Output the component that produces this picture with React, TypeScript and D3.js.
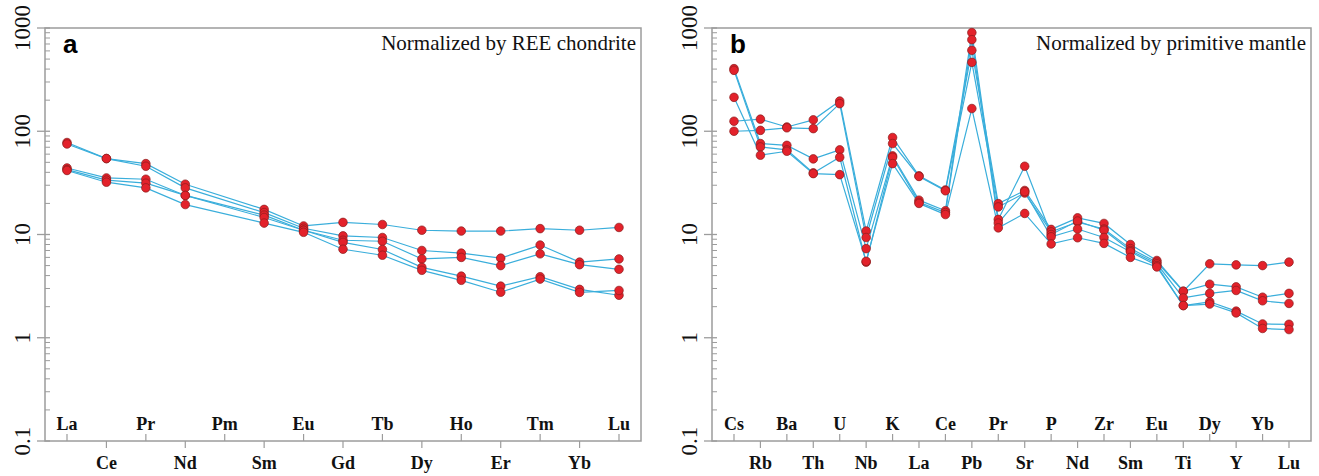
import React from "react";
import * as d3 from "d3";

const reeCats = ["La","Ce","Pr","Nd","Pm","Sm","Eu","Gd","Tb","Dy","Ho","Er","Tm","Yb","Lu"];
const reeS1 = [77.8, 54.4, 48.6, 30.7, null, 17.5, 12.1, 13.1, 12.5, 11.0, 10.8, 10.8, 11.4, 11.0, 11.7];
const reeS2 = [75.3, 54.4, 45.8, 28.3, null, 16.3, 11.5, 9.7, 9.35, 7.0, 6.6, 5.9, 7.9, 5.4, 5.8];
const reeS3 = [44.1, 35.3, 34.3, 23.9, null, 15.4, 11.0, 8.8, 8.6, 5.8, 6.0, 5.0, 6.5, 5.1, 4.6];
const reeS4 = [42.5, 33.6, 31.4, 23.9, null, 14.6, 11.0, 8.4, 7.16, 4.8, 3.95, 3.16, 3.9, 2.94, 2.58];
const reeS5 = [41.7, 32.1, 28.3, 19.5, null, 12.9, 10.5, 7.2, 6.3, 4.5, 3.6, 2.76, 3.7, 2.75, 2.87];

const pmCats = ["Cs","Rb","Ba","Th","U","Nb","K","La","Ce","Pb","Pr","Sr","P","Nd","Zr","Sm","Eu","Ti","Dy","Y","Yb","Lu"];
const pmS1 = [125, 131, 110, 129, 196, 10.8, 87, 37, 27, 608, 19.9, 26.7, 11.2, 14.5, 12.8, 8.0, 5.6, 2.82, 5.2, 5.08, 5.0, 5.4];
const pmS2 = [100, 102, 108, 106, 185, 9.35, 76, 36.5, 26.5, 465, 18.5, 25.2, 10.6, 13.2, 11.3, 7.3, 5.4, 2.82, 3.3, 3.11, 2.47, 2.69];
const pmS3 = [404, 76, 73, 54, 66, 7.3, 57.7, 21.5, 17, 902, 14.0, 45.8, 10.0, 13.5, 11.0, 7.0, 5.2, 2.43, 2.69, 2.87, 2.28, 2.15];
const pmS4 = [389, 70.5, 66, 39.5, 56, 5.4, 56, 20.5, 16.3, 771, 12.9, 26.0, 9.5, 11.3, 9.35, 6.8, 5.0, 2.05, 2.23, 1.81, 1.36, 1.35];
const pmS5 = [213, 58.6, 64, 38.9, 38, 5.5, 48.6, 20, 15.6, 166, 11.6, 16.0, 8.1, 9.3, 8.2, 6.0, 4.85, 2.05, 2.12, 1.74, 1.23, 1.20];

const yTicks = [0.1, 1, 10, 100, 1000];
const yTickLabels = ["0.1", "1", "10", "100", "1000"];

const LINE = "#3aaedb";
const DOT = "#e3222b";
const DOT_STROKE = "#8a1c1c";
const FRAME = "#9c9c9c";
const SERIF = "Liberation Serif, DejaVu Serif, Times New Roman, serif";
const SANS = "Liberation Sans, Arial, sans-serif";

type PanelProps = {
  left: number; right: number; top: number; bottom: number;
  cats: string[]; series: (number | null)[][]; letter: string; note: string;
};

function Panel({ left, right, top, bottom, cats, series, letter, note }: PanelProps) {
  const x = d3.scalePoint<string>().domain(cats).range([left + 22, right - 22]).padding(0);
  const y = d3.scaleLog().domain([0.1, 1000]).range([bottom, top]);
  const line = d3.line<{ c: string; v: number }>().x(d => x(d.c) as number).y(d => y(d.v));
  const minor: number[] = [];
  [0.1, 1, 10, 100].forEach(dec => { for (let k = 2; k <= 9; k++) minor.push(dec * k); });
  const pts = series.map(s => s.map((v, i) => ({ c: cats[i], v })).filter(d => d.v != null) as { c: string; v: number }[]);
  return (
    <g>
      <rect x={left} y={top} width={right - left} height={bottom - top} fill="none" stroke={FRAME} strokeWidth={1.5} />
      {yTicks.map(t => (
        <line key={"M" + t} x1={left - 8} x2={left + 5} y1={y(t)} y2={y(t)} stroke={FRAME} strokeWidth={1.3} />
      ))}
      {minor.map(t => (
        <line key={"m" + t} x1={left} x2={left + 5} y1={y(t)} y2={y(t)} stroke={FRAME} strokeWidth={1} />
      ))}
      {yTicks.map((t, i) => (
        <text key={"L" + t} transform={`translate(${left - 15},${y(t)}) rotate(-90)`} textAnchor="middle"
          style={{ fontFamily: SERIF, fontSize: 23 }} fill="#111">{yTickLabels[i]}</text>
      ))}
      {cats.map((c, i) => {
        const xc = x(c) as number;
        const even = i % 2 === 0;
        return (
          <g key={"x" + c}>
            <line x1={xc} x2={xc} y1={bottom} y2={even ? bottom - 7 : bottom + 7} stroke={FRAME} strokeWidth={1.2} />
            <text x={xc} y={even ? bottom - 11 : bottom + 28} textAnchor="middle"
              style={{ fontFamily: SERIF, fontWeight: "bold", fontSize: 18 }} fill="#111">{c}</text>
          </g>
        );
      })}
      {pts.map((p, i) => (
        <path key={"p" + i} d={line(p) || ""} fill="none" stroke={LINE} strokeWidth={1.2} />
      ))}
      {pts.map((p, i) => p.map(d => (
        <circle key={"c" + i + d.c} cx={x(d.c) as number} cy={y(d.v)} r={4.3} fill={DOT} stroke={DOT_STROKE} strokeWidth={0.7} />
      )))}
      <text x={left + 18} y={top + 25} style={{ fontFamily: SANS, fontWeight: "bold", fontSize: 26 }} fill="#000">{letter}</text>
      <text x={right - 5} y={top + 22} textAnchor="end" style={{ fontFamily: SERIF, fontSize: 21 }} fill="#111">{note}</text>
    </g>
  );
}

export default function App() {
  return (
    <svg width={1319} height={476} style={{ position: "absolute", left: 0, top: 0, background: "#fff" }}>
      <Panel left={45} right={641} top={28} bottom={441} cats={reeCats}
        series={[reeS1, reeS2, reeS3, reeS4, reeS5]} letter="a" note="Normalized by REE chondrite" />
      <Panel left={712} right={1311} top={28} bottom={441} cats={pmCats}
        series={[pmS1, pmS2, pmS3, pmS4, pmS5]} letter="b" note="Normalized by primitive mantle" />
    </svg>
  );
}
